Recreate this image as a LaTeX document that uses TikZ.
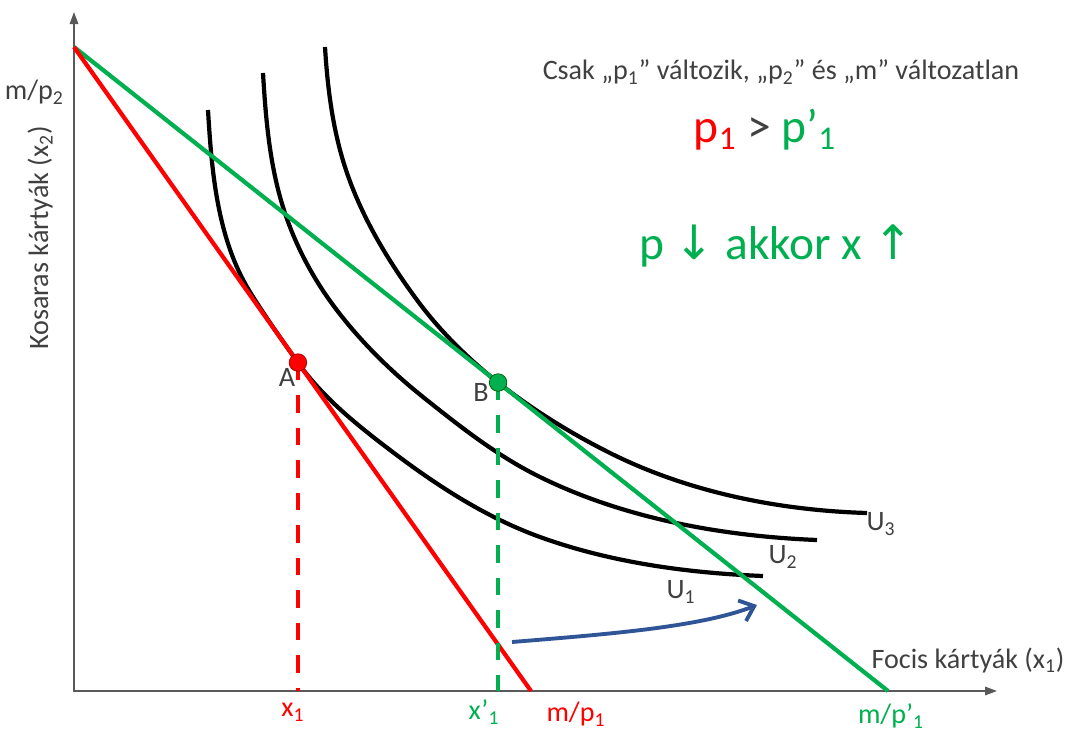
\documentclass[tikz,border=0pt]{standalone}
\usepackage{fontspec}
\setmainfont{Carlito}
\newfontfamily\arrowfont{DejaVu Sans}
\usetikzlibrary{arrows.meta,calc}
\definecolor{budRed}{HTML}{FF0000}
\definecolor{budGreen}{HTML}{00B050}
\definecolor{shiftBlue}{HTML}{2F5597}
\definecolor{axGray}{HTML}{595959}
\definecolor{txtGray}{HTML}{404040}

\begin{document}
\begin{tikzpicture}[x=0.02cm, y=-0.02cm,
  axis/.style={draw=axGray, line width=0.9pt, -{Triangle[length=2.4mm,width=1.7mm]}},
  indiff/.style={line width=2.4pt},
  budget/.style={line width=2.4pt},
  drop/.style={line width=2.4pt, dash pattern=on 10pt off 8.5pt},
  dot/.style={circle, inner sep=0pt, minimum size=10pt, line width=0.4pt},
  lbl/.style={text=txtGray, font=\fontsize{16}{18}\selectfont},
  big/.style={font=\fontsize{27}{30}\selectfont}]
\useasboundingbox (0,0) rectangle (1069,731);
% axes
\coordinate (O) at (74,691);
\coordinate (ytop) at (74,12);
\coordinate (xend) at (997,691);
\draw[axis] (O) -- (ytop);
\draw[axis] (73,691) -- (xend);
% intercepts
\coordinate (M) at (74,47);
\coordinate (R) at (531,691);
\coordinate (G) at (888,691);
\coordinate (A) at ($(M)!0.490!(R)$);
\coordinate (B) at ($(M)!0.521!(G)$);
% indifference curves
\draw[indiff] (208,110) .. controls (211.7,172.2) and (217.3,239) .. (250,292)
  .. controls (265,316.3) and (281.5,339.4) .. (A)
  .. controls (322.5,397.2) and (356.3,424.4) .. (390,450)
  .. controls (436,485) and (485.6,517.4) .. (540,537)
  .. controls (611,562.6) and (687.6,573) .. (763,576);
\draw[indiff] (263,73) .. controls (265.7,118.1) and (269.5,163.9) .. (283,207)
  .. controls (293.9,242) and (311.2,275.5) .. (333,305)
  .. controls (358.5,339.5) and (389.5,370.2) .. (423,397)
  .. controls (459.9,426.5) and (497.6,456.2) .. (540,477)
  .. controls (625,518.7) and (722.4,536.2) .. (817,540);
\draw[indiff] (325,47) .. controls (327.6,89.5) and (333.1,132.7) .. (347,173)
  .. controls (362.7,218.6) and (388.3,261.2) .. (417,300)
  .. controls (439.9,331) and (467.8,358.5) .. (B)
  .. controls (532.6,409.7) and (570.6,433.3) .. (610,453)
  .. controls (688.7,492.3) and (779,510.4) .. (867,513);
% budget lines
\draw[budget, budGreen] (M) -- (G);
\draw[budget, budRed] (M) -- (R);
\draw[drop, budRed] (A) -- (A |- O);
\draw[drop, budGreen] (B) -- (B |- O);
\node[dot, fill=budRed, draw=red!60!black] (pA) at (A) {};
\node[dot, fill=budGreen, draw=green!35!black] (pB) at (B) {};
% shift arrow
\coordinate (s0) at (512,642);
\coordinate (s1) at (757,605);
\draw[shiftBlue, line width=2.2pt, -{Straight Barb[length=2.6mm,width=4.4mm]}]
  (s0) .. controls (610,634) and (700,627) .. (s1);
% labels
\node[lbl] (lA) at (287,377) {A};
\node[lbl] (lB) at (481,392) {B};
\node[lbl] (u1) at (681,592) {U\textsubscript{1}};
\node[lbl] (u2) at (783,557) {U\textsubscript{2}};
\node[lbl] (u3) at (881,524) {U\textsubscript{3}};
\node[lbl, anchor=east] (my) at (70,92) {m/p\textsubscript{2}};
\node[lbl, rotate=90] (ty) at (40,238) {Kosaras kártyák (x\textsubscript{2})};
\node[lbl] (tx) at (968,660) {Focis kártyák (x\textsubscript{1})};
\node[lbl, text=budRed] (x1) at (293,712) {x\textsubscript{1}};
\node[lbl, text=budGreen] (x2) at (484,712) {x’\textsubscript{1}};
\node[lbl, text=budRed] (mr) at (576,714) {m/p\textsubscript{1}};
\node[lbl, text=budGreen] (mg) at (891,716) {m/p’\textsubscript{1}};
% notes
\node[lbl] (note) at (781,72)
  {Csak „p\textsubscript{1}” változik, „p\textsubscript{2}” és „m” változatlan};
\node[big] (rel) at (765,130)
  {\textcolor{budRed}{p\textsubscript{1}} \textcolor{txtGray}{>} \textcolor{budGreen}{p’\textsubscript{1}}};
\node[big, text=budGreen] (rule) at (776,246)
  {p {\arrowfont ↓} akkor x {\arrowfont ↑}};
\end{tikzpicture}
\end{document}
